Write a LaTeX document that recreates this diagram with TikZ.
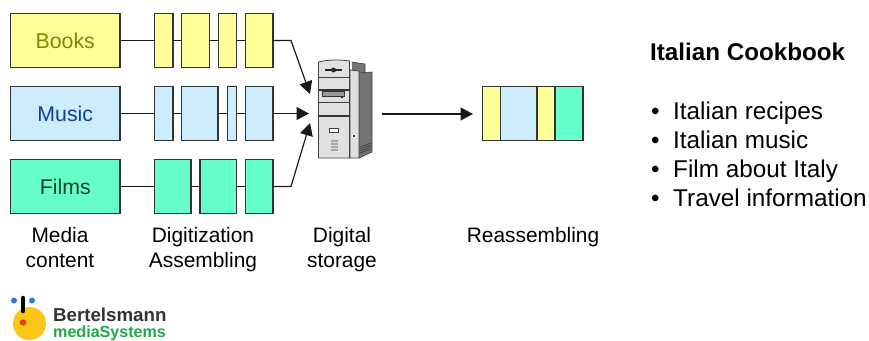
\documentclass[tikz,border=0pt]{standalone}
\usepackage{fontspec}
\setmainfont{Liberation Sans}
\usetikzlibrary{arrows.meta}
\definecolor{bookfill}{HTML}{FFFF99}
\definecolor{musicfill}{HTML}{CCECFF}
\definecolor{filmfill}{HTML}{66FFCC}
\definecolor{edgegray}{HTML}{333333}
\definecolor{booktext}{HTML}{858500}
\definecolor{musictext}{HTML}{0F3CA0}
\definecolor{filmtext}{HTML}{0C4020}
\definecolor{logoyellow}{HTML}{FBC615}
\definecolor{logoblue}{HTML}{2A7FD0}
\definecolor{logored}{HTML}{E2401A}
\definecolor{logogreen}{HTML}{1FA84A}
\tikzset{
  > = {Triangle[length=12.5pt, width=13pt]},
  connector/.style = {line width=1.2pt, black!90},
  media box/.style = {draw=edgegray, line width=1.2pt, inner sep=0pt, minimum width=109.5pt, minimum height=54pt, text height=15pt, text depth=0pt, font=\fontsize{21.3}{25}\selectfont},
  book seg/.style = {draw=edgegray, line width=1.2pt, fill=bookfill, inner sep=0pt, minimum height=54pt, minimum width=#1},
  music seg/.style = {draw=edgegray, line width=1.2pt, fill=musicfill, inner sep=0pt, minimum height=54pt, minimum width=#1},
  film seg/.style = {draw=edgegray, line width=1.2pt, fill=filmfill, inner sep=0pt, minimum height=54pt, minimum width=#1},
  caption/.style = {align=center, font=\fontsize{20.9}{25}\selectfont},
  bullet line/.style = {anchor=base west, inner sep=0pt, font=\fontsize{24.3}{28}\selectfont},
  case part/.style = {draw=black!75, line width=0.8pt, fill=black!12},
  case dark/.style = {draw=black!75, line width=0.6pt, fill=black!55},
}

\begin{document}
\begin{tikzpicture}[x=1pt, y=-1pt]
  \useasboundingbox (0,0) rectangle (869,340);

  %% define coordinates
  \coordinate (books_bend) at (291,40.5);
  \coordinate (books_tip) at (310,94);
  \coordinate (music_tip) at (309,113.5);
  \coordinate (films_bend) at (291,186.5);
  \coordinate (films_tip) at (310,123);
  \coordinate (server_out) at (382,114);
  \coordinate (mix_in) at (473,114);

  % draw media boxes
  \node[media box, fill=bookfill, text=booktext] (books) at (65.25,40.5) {Books};
  \node[media box, fill=musicfill, text=musictext] (music) at (65.25,113.5) {Music};
  \node[media box, fill=filmfill, text=filmtext] (films) at (65.25,186.5) {Films};

  % draw digitized segments
  \node[book seg=18.5pt] (books1) at (163.75,40.5) {};
  \node[book seg=28pt] (books2) at (195.5,40.5) {};
  \node[book seg=18pt] (books3) at (227.5,40.5) {};
  \node[book seg=27.5pt] (books4) at (259.25,40.5) {};

  \node[music seg=18.5pt] (music1) at (163.75,113.5) {};
  \node[music seg=36.5pt] (music2) at (199.75,113.5) {};
  \node[music seg=9pt] (music3) at (232,113.5) {};
  \node[music seg=27.5pt] (music4) at (259.25,113.5) {};

  \node[film seg=36.5pt] (films1) at (172.75,186.5) {};
  \node[film seg=36.5pt] (films2) at (218.25,186.5) {};
  \node[film seg=27.5pt] (films3) at (259.25,186.5) {};

  % draw connectors
  \draw[connector] (books) -- (books1) (books1) -- (books2) (books2) -- (books3) (books3) -- (books4);
  \draw[connector] (music) -- (music1) (music1) -- (music2) (music2) -- (music3) (music3) -- (music4);
  \draw[connector] (films) -- (films1) (films1) -- (films2) (films2) -- (films3);
  \draw[connector, ->] (books4) -- (books_bend) -- (books_tip);
  \draw[connector, ->] (music4) -- (music_tip);
  \draw[connector, ->] (films3) -- (films_bend) -- (films_tip);
  \draw[connector, ->] (server_out) -- (mix_in);

  % draw the server
  \fill[black!55] (352,62) -- (365,64) -- (365,73) -- (352,73) -- cycle;
  \draw[black!75, line width=0.6pt] (352,62) -- (365,64) -- (365,73);
  \draw[case dark] (359,73) -- (372,72) -- (372,152) -- (359,158) -- cycle;
  \draw[case part] (350,70) -- (359,71) -- (359,158) -- (350,158) -- cycle;
  \draw[case part] (318.5,62) .. controls (328,59.5) and (340,59.5) .. (349.5,61) -- (349.5,158) -- (318.5,158) -- cycle;
  \draw[black!75, line width=0.8pt] (318.5,77) -- (349.5,77);
  \draw[black!80, line width=1.2pt] (318.5,90) -- (349.5,90);
  \draw[black!75, line width=0.8pt] (318.5,102) -- (349.5,102);
  \draw[black!80, line width=1.4pt] (318.5,116) -- (349.5,116);
  \draw[black!85, line width=1.6pt] (325,70) -- (342,70);
  \fill[black!85] (333.5,70) circle (2.5pt);
  \draw[black!80, line width=0.8pt, fill=black!40] (322.5,91.5) rectangle (344.5,96.5);
  \fill[black!85] (342,97) circle (1.3pt);
  \draw[black!75, line width=0.7pt, fill=white] (329.5,128.5) rectangle (338,132);
  \draw[black!35, line width=7pt, dash pattern=on 2pt off 1pt] (334,140) -- (334,152);
  \fill[white] (354,136) circle (2.6pt);
  \fill[black!85] (354,136) circle (1.4pt);
  \draw[black!75, line width=0.7pt] (360,147) -- (371,143) (360,149) -- (371,145) (360,151) -- (371,147) (360,153) -- (371,149);

  % draw the reassembled strip
  \node[book seg=18pt] (mix1) at (491.5,113.5) {};
  \node[music seg=36.5pt] (mix2) at (518.75,113.5) {};
  \node[book seg=18pt] (mix3) at (546,113.5) {};
  \node[film seg=28pt] (mix4) at (569,113.5) {};

  % draw captions
  \node[caption] (media_label) at (60,249.5) {\strut Media\\\strut content};
  \node[caption] (digit_label) at (203,249.5) {\strut Digitization\\\strut Assembling};
  \node[caption] (storage_label) at (342,249.5) {\strut Digital\\\strut storage};
  \node[caption] (reassembly_label) at (533,237) {\strut Reassembling};

  % draw the text on the right
  \node[anchor=base west, inner sep=0pt, font=\fontsize{24.2}{28}\bfseries] (cookbook) at (650,60) {Italian Cookbook};
  \node[bullet line] (dot1) at (651,119) {•};
  \node[bullet line] (line1) at (673,119) {Italian recipes};
  \node[bullet line] (dot2) at (651,148) {•};
  \node[bullet line] (line2) at (673,148) {Italian music};
  \node[bullet line] (dot3) at (651,177) {•};
  \node[bullet line] (line3) at (673,177) {Film about Italy};
  \node[bullet line] (dot4) at (651,206) {•};
  \node[bullet line] (line4) at (673,206) {Travel information};

  % draw the logo
  \fill[logoyellow] (29.5,323.5) circle (16.5pt);
  \fill[logoblue] (14,300.5) circle (3pt);
  \fill[logoblue] (32,300.5) circle (3pt);
  \draw[black, line width=4.5pt, line cap=round] (23,298) -- (23,311);
  \fill[logored] (23,322.5) circle (3.3pt);
  \node[anchor=base west, inner sep=0pt, font=\fontsize{18.7}{20}\bfseries, text=black!80] (logo_top) at (53,321.5) {Bertelsmann};
  \node[anchor=base west, inner sep=0pt, font=\fontsize{16.1}{18}\bfseries, text=logogreen] (logo_bottom) at (53,337.5) {mediaSystems};
\end{tikzpicture}
\end{document}
